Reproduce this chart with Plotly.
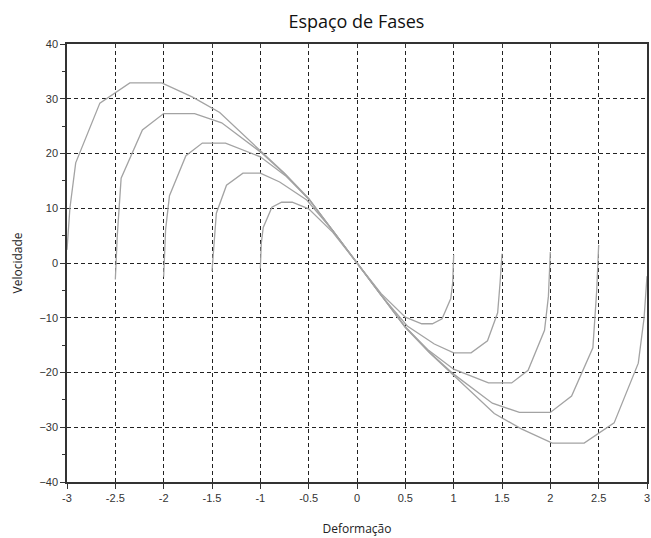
import plotly.graph_objects as go

# Phase-space curves (deformation x, velocity v)
x_a1 = [-1.0, -0.99, -0.97, -0.88, -0.78, -0.67, -0.5, -0.25, 0.0, 0.25, 0.5, 0.67, 0.78, 0.88, 0.97, 0.99, 1.0]
v_a1 = [-1.0, 3.6, 6.5, 10.2, 11.1, 11.1, 9.9, 5.6, 0.0, -5.6, -9.9, -11.1, -11.1, -10.2, -6.5, -3.6, 1.5]

x_a15 = [-1.5, -1.48, -1.455, -1.35, -1.18, -1.0, -0.8, -0.52, -0.25, 0.0, 0.25, 0.52, 0.8, 1.0, 1.18, 1.35, 1.455, 1.48, 1.5]
v_a15 = [-1.5, 3.6, 9.1, 14.2, 16.4, 16.4, 14.8, 11.5, 5.9, 0.0, -5.9, -11.5, -14.8, -16.4, -16.4, -14.2, -9.1, -3.6, 1.7]

x_a2 = [-2.0, -1.98, -1.94, -1.77, -1.6, -1.36, -1.0, -0.73, -0.5, -0.25, 0.0, 0.25, 0.5, 0.73, 1.0, 1.36, 1.6, 1.77, 1.94, 1.98, 2.0]
v_a2 = [-2.5, 6.1, 12.3, 19.6, 21.9, 21.9, 19.4, 15.8, 11.7, 5.9, 0.0, -5.9, -11.7, -15.8, -19.4, -21.9, -21.9, -19.6, -12.3, -6.1, 2.0]

x_a25 = [-2.5, -2.48, -2.44, -2.22, -2.0, -1.68, -1.4, -1.0, -0.75, -0.5, -0.25, 0.0, 0.25, 0.5, 0.75, 1.0, 1.4, 1.68, 2.0, 2.22, 2.44, 2.48, 2.5]
v_a25 = [-3.0, 5.0, 15.5, 24.3, 27.3, 27.3, 25.6, 20.3, 16.3, 11.7, 5.9, 0.0, -5.9, -11.7, -16.3, -20.3, -25.6, -27.3, -27.3, -24.3, -15.5, -5.0, 3.3]

x_a3 = [-3.0, -2.97, -2.91, -2.66, -2.35, -2.02, -1.70, -1.42, -1.0, -0.75, -0.5, -0.25, 0.0, 0.25, 0.5, 0.75, 1.0, 1.42, 1.70, 2.02, 2.35, 2.66, 2.91, 2.97, 3.0]
v_a3 = [2.4, 10.0, 18.3, 29.2, 32.9, 32.9, 30.3, 27.5, 20.5, 16.4, 11.8, 5.9, 0.0, -5.9, -11.8, -16.4, -20.5, -27.5, -30.3, -32.9, -32.9, -29.2, -18.3, -10.0, -2.4]

curves = [(x_a1, v_a1), (x_a15, v_a15), (x_a2, v_a2), (x_a25, v_a25), (x_a3, v_a3)]

x_ticks = [-3, -2.5, -2, -1.5, -1, -0.5, 0, 0.5, 1, 1.5, 2, 2.5, 3]
x_ticklabels = ["-3", "-2.5", "-2", "-1.5", "-1", "-0.5", "0", "0.5", "1", "1.5", "2", "2.5", "3"]
y_ticks = [-40, -30, -20, -10, 0, 10, 20, 30, 40]

fig = go.Figure()
for xs, vs in curves:
    fig.add_trace(go.Scatter(x=xs, y=vs, mode="lines",
                             line=dict(color="#a3a3a3", width=1.3),
                             showlegend=False, hoverinfo="skip"))

tickfont = dict(family="Liberation Sans, Arial, sans-serif", size=11, color="#333333")
fig.update_layout(
    width=651, height=538,
    margin=dict(l=67, r=4, t=44, b=56, autoexpand=False),
    paper_bgcolor="white", plot_bgcolor="white",
    title=dict(text="Espaço de Fases", x=0.5475, xanchor="center", y=0.959, yanchor="middle",
               font=dict(family="Open Sans, Noto Sans, sans-serif", size=18, color="#111111")),
    xaxis=dict(range=[-3, 3], tickvals=x_ticks, ticktext=x_ticklabels, automargin=False,
               showgrid=True, gridcolor="#222222", gridwidth=1, griddash="4px,3px",
               zeroline=False, showline=True, linecolor="#333333", linewidth=1.5, mirror=True,
               ticks="outside", ticklen=5, tickcolor="#333333", tickfont=tickfont,
               title=dict(text="Deformação", standoff=22,
                          font=dict(family="Open Sans, Noto Sans, sans-serif", size=12, color="#222222"))),
    yaxis=dict(range=[-40, 40], tickvals=y_ticks, automargin=False,
               showgrid=True, gridcolor="#222222", gridwidth=1, griddash="4px,3px",
               zeroline=False, showline=True, linecolor="#333333", linewidth=1.5, mirror=True,
               ticks="outside", ticklen=5, tickcolor="#333333", tickfont=tickfont,
               minor=dict(ticks="outside", ticklen=3, dtick=5, tickcolor="#333333", showgrid=False),
               title=dict(text="Velocidade", standoff=14,
                          font=dict(family="Open Sans, Noto Sans, sans-serif", size=12, color="#222222"))),
    xaxis2=dict(overlaying="x", side="top", matches="x", range=[-3, 3], tickvals=x_ticks,
                showticklabels=False, ticks="inside", ticklen=4, tickcolor="#333333",
                showgrid=False, zeroline=False, showline=False, automargin=False),
)
fig.add_trace(go.Scatter(x=[None], y=[None], xaxis="x2", showlegend=False, hoverinfo="skip"))

fig.write_html(
    "out.html",
    config={"displayModeBar": False},
    post_script="document.body.style.margin='0px';document.documentElement.style.overflow='hidden';document.body.style.overflow='hidden';",
)
